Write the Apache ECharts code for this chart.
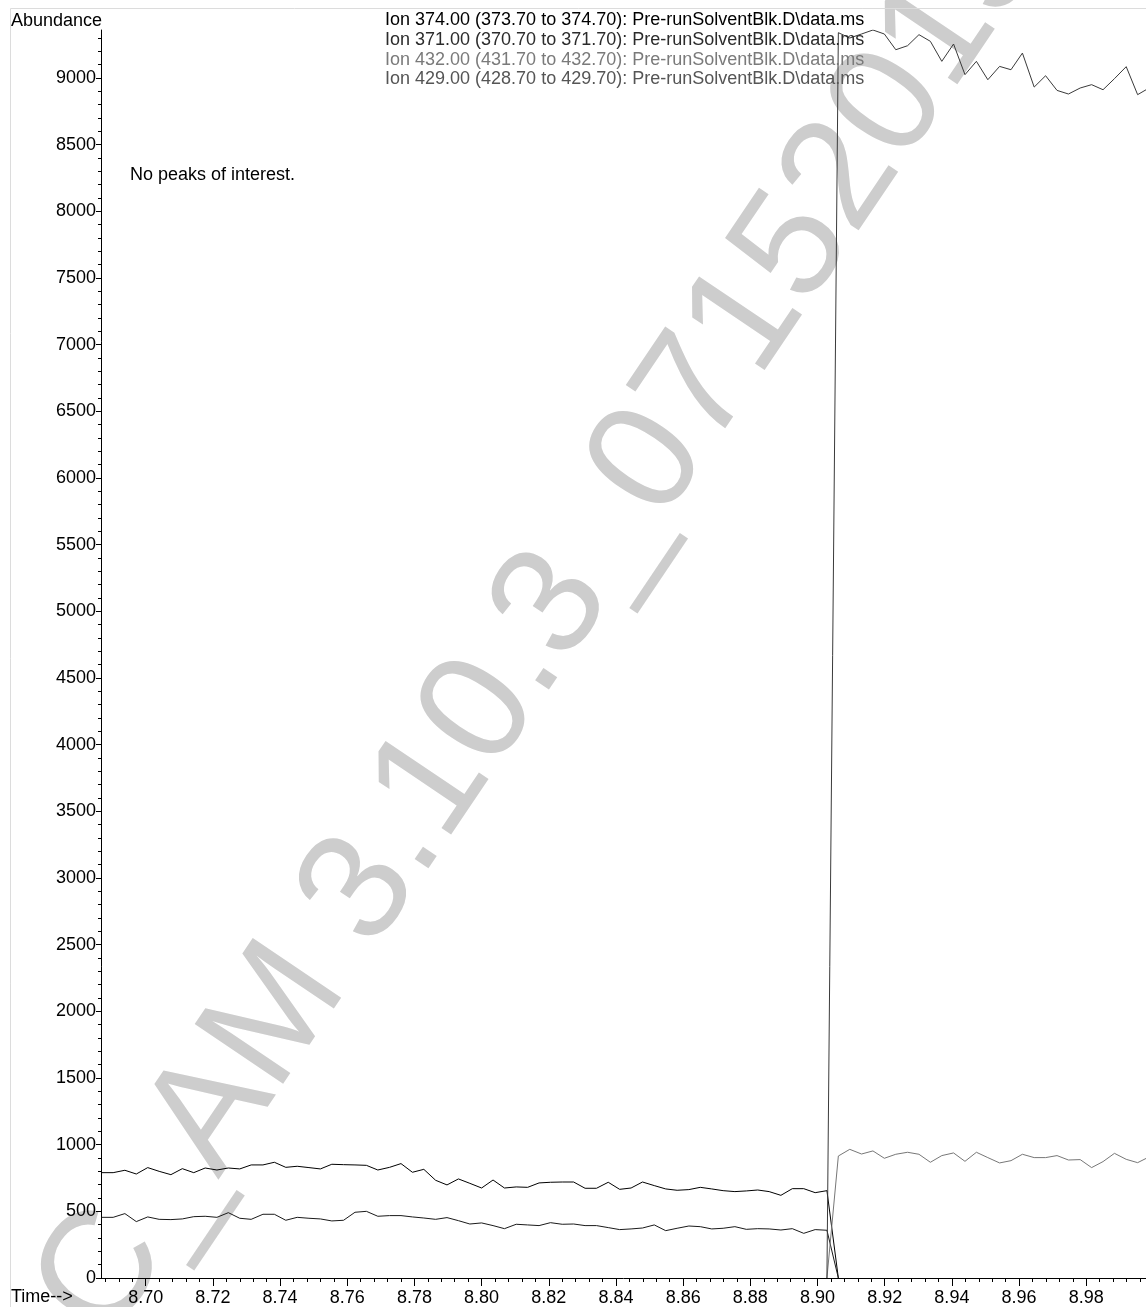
<!DOCTYPE html>
<html>
<head>
<meta charset="utf-8">
<script src="https://cdn.jsdelivr.net/npm/echarts@6/dist/echarts.min.js"></script>
<style>
  html, body { margin: 0; padding: 0; background: #fff; }
  #chartBox { width: 1146px; height: 1307px; }
</style>
</head>
<body>
<div id="chartBox"></div>
<script>
// scan times (min), one per SIM cycle
const scanTimes = [
  8.6869, 8.6903, 8.6938, 8.6972, 8.7006, 8.7040, 8.7075, 8.7109, 8.7143, 8.7177,
  8.7212, 8.7246, 8.7280, 8.7314, 8.7349, 8.7383, 8.7417, 8.7451, 8.7486, 8.7520,
  8.7554, 8.7589, 8.7623, 8.7657, 8.7691, 8.7726, 8.7760, 8.7794, 8.7828, 8.7863,
  8.7897, 8.7931, 8.7965, 8.8000, 8.8034, 8.8068, 8.8103, 8.8137, 8.8171, 8.8205,
  8.8240, 8.8274, 8.8308, 8.8342, 8.8377, 8.8411, 8.8445, 8.8479, 8.8514, 8.8548,
  8.8582, 8.8617, 8.8651, 8.8685, 8.8719, 8.8754, 8.8788, 8.8822, 8.8856, 8.8891,
  8.8925, 8.8959, 8.8993, 8.9028, 8.9062, 8.9096, 8.9131, 8.9165, 8.9199, 8.9233,
  8.9268, 8.9302, 8.9336, 8.9370, 8.9405, 8.9439, 8.9473, 8.9507, 8.9542, 8.9576,
  8.9610, 8.9645, 8.9679, 8.9713, 8.9747, 8.9782, 8.9816, 8.9850, 8.9884, 8.9919,
  8.9953, 8.9987
];

// first SIM group: scans 0..64
const ion374 = [
  790, 790, 808, 780, 828, 800, 775, 820, 790, 825,
  810, 825, 818, 848, 848, 868, 830, 838, 828, 818,
  853, 850, 848, 845, 810, 830, 858, 793, 815, 733,
  698, 743, 710, 675, 735, 675, 683, 680, 713, 718,
  720, 720, 673, 673, 718, 665, 675, 720, 693, 668,
  658, 663, 680, 668, 655, 648, 653, 660, 648, 620,
  670, 670, 640, 655, 0
];
const ion371 = [
  455, 455, 483, 423, 458, 440, 438, 443, 460, 463,
  455, 490, 448, 440, 478, 478, 433, 455, 448, 443,
  428, 433, 493, 500, 463, 468, 468, 458, 450, 440,
  453, 430, 405, 413, 393, 370, 403, 398, 393, 415,
  403, 405, 393, 393, 378, 363, 368, 375, 398, 355,
  373, 390, 385, 368, 373, 385, 365, 370, 368, 360,
  370, 335, 363, 358, 0
];
// second SIM group: scans 63..91
const GROUP2_START = 63;
const ion432 = [
  0, 915, 965, 930, 953, 898, 928, 943, 928, 868,
  918, 938, 875, 943, 903, 863, 880, 928, 903, 903,
  918, 885, 888, 828, 873, 935, 890, 865, 908
];
const ion429 = [
  0, 9340, 9300, 9330, 9360, 9330, 9212, 9242, 9325, 9275,
  9125, 9255, 9025, 9125, 8987, 9087, 9062, 9187, 8932, 9017,
  8907, 8880, 8925, 8950, 8912, 8995, 9085, 8875, 8925
];

const ionNames = [
  'Ion 374.00 (373.70 to 374.70): Pre-runSolventBlk.D\\data.ms',
  'Ion 371.00 (370.70 to 371.70): Pre-runSolventBlk.D\\data.ms',
  'Ion 432.00 (431.70 to 432.70): Pre-runSolventBlk.D\\data.ms',
  'Ion 429.00 (428.70 to 429.70): Pre-runSolventBlk.D\\data.ms'
];

const timeTicks = [8.70, 8.72, 8.74, 8.76, 8.78, 8.80, 8.82, 8.84, 8.86, 8.88, 8.90, 8.92, 8.94, 8.96, 8.98];
const abundanceTicks = [0, 500, 1000, 1500, 2000, 2500, 3000, 3500, 4000, 4500,
  5000, 5500, 6000, 6500, 7000, 7500, 8000, 8500, 9000];

const X_MIN = 8.68669, X_MAX = 8.99779;
const Y_MAX = 9360;

// minor tick positions (5 per major step)
const timeMinor = [];
for (let i = 0; i < 78; i++) timeMinor.push(+(8.688 + i * 0.004).toFixed(3));
const abundanceMinor = [];
for (let v = 0; v <= 9300; v += 100) abundanceMinor.push(v);

const FONT = '"Liberation Sans", Arial, Helvetica, sans-serif';
const lineColors = ['#000', '#1a1a1a', '#777', '#3a3a3a'];
const legendColors = ['#000', '#2b2b2b', '#7a7a7a', '#555'];

function pairs(times, values, offset) {
  return values.map((v, i) => [times[i + offset], v]);
}

const myChart = echarts.init(document.getElementById('chartBox'), null, { renderer: 'canvas' });

const option = {
  animation: false,
  backgroundColor: '#fff',
  grid: { left: 101, right: 0, top: 30, bottom: 29, containLabel: false },
  xAxis: [
    {
      type: 'value', min: X_MIN, max: X_MAX, position: 'bottom',
      axisLine: { lineStyle: { color: '#000', width: 1 } },
      axisTick: { customValues: timeTicks, length: 8, lineStyle: { color: '#000' } },
      axisLabel: {
        customValues: timeTicks, margin: 11, color: '#000', fontSize: 18, fontFamily: FONT,
        formatter: v => v.toFixed(2)
      },
      splitLine: { show: false }
    },
    {
      type: 'value', min: X_MIN, max: X_MAX, position: 'bottom',
      axisLine: { show: false },
      axisTick: { customValues: timeMinor, length: 4, lineStyle: { color: '#000' } },
      axisLabel: { show: false },
      splitLine: { show: false }
    }
  ],
  yAxis: [
    {
      type: 'value', min: 0, max: Y_MAX, position: 'left',
      axisLine: { show: true, lineStyle: { color: '#000', width: 1 } },
      axisTick: { show: true, customValues: abundanceTicks, length: 5, lineStyle: { color: '#000' } },
      axisLabel: {
        customValues: abundanceTicks, margin: 5, color: '#000', fontSize: 18, fontFamily: FONT,
        formatter: v => String(v)
      },
      splitLine: { show: false }
    },
    {
      type: 'value', min: 0, max: Y_MAX, position: 'left',
      axisLine: { show: false },
      axisTick: { show: true, customValues: abundanceMinor, length: 3, lineStyle: { color: '#000' } },
      axisLabel: { show: false },
      splitLine: { show: false }
    }
  ],
  series: [
    { name: ionNames[0], type: 'line', data: pairs(scanTimes, ion374, 0) },
    { name: ionNames[1], type: 'line', data: pairs(scanTimes, ion371, 0) },
    { name: ionNames[2], type: 'line', data: pairs(scanTimes, ion432, GROUP2_START) },
    { name: ionNames[3], type: 'line', data: pairs(scanTimes, ion429, GROUP2_START) }
  ].map((s, i) => Object.assign(s, {
    symbol: 'none', showSymbol: false, z: 3, color: lineColors[i],
    lineStyle: { width: 1, color: lineColors[i] }
  })),
  graphic: [
    // watermark
    {
      type: 'text', x: -58, y: 1513, rotation: 56 * Math.PI / 180, z: -10, silent: true,
      style: {
        text: 'DOC_AM 3.10.3_07152015', fill: '#cdcdcd',
        font: '155px ' + FONT, textAlign: 'left', textVerticalAlign: 'middle'
      }
    },
    // frame
    {
      type: 'rect', z: -5, silent: true,
      shape: { x: 10.5, y: 8.5, width: 1200, height: 1400 },
      style: { fill: null, stroke: '#dcdcdc', lineWidth: 1 }
    },
    {
      type: 'text', x: 11, y: 21, z: 10,
      style: { text: 'Abundance', fill: '#000', font: '18px ' + FONT, textVerticalAlign: 'middle' }
    },
    {
      type: 'text', x: 11, y: 1297.5, z: 10,
      style: { text: 'Time-->', fill: '#000', font: '18px ' + FONT, textVerticalAlign: 'middle' }
    },
    {
      type: 'text', x: 130, y: 175, z: 10,
      style: { text: 'No peaks of interest.', fill: '#000', font: '18px ' + FONT, textVerticalAlign: 'middle' }
    }
  ].concat(ionNames.map((name, i) => ({
    type: 'text', x: 385, y: 20.3 + i * 19.7, z: 10,
    style: { text: name, font: '18px ' + FONT, textVerticalAlign: 'middle', fill: legendColors[i] }
  })))
};

myChart.setOption(option);
</script>
</body>
</html>
